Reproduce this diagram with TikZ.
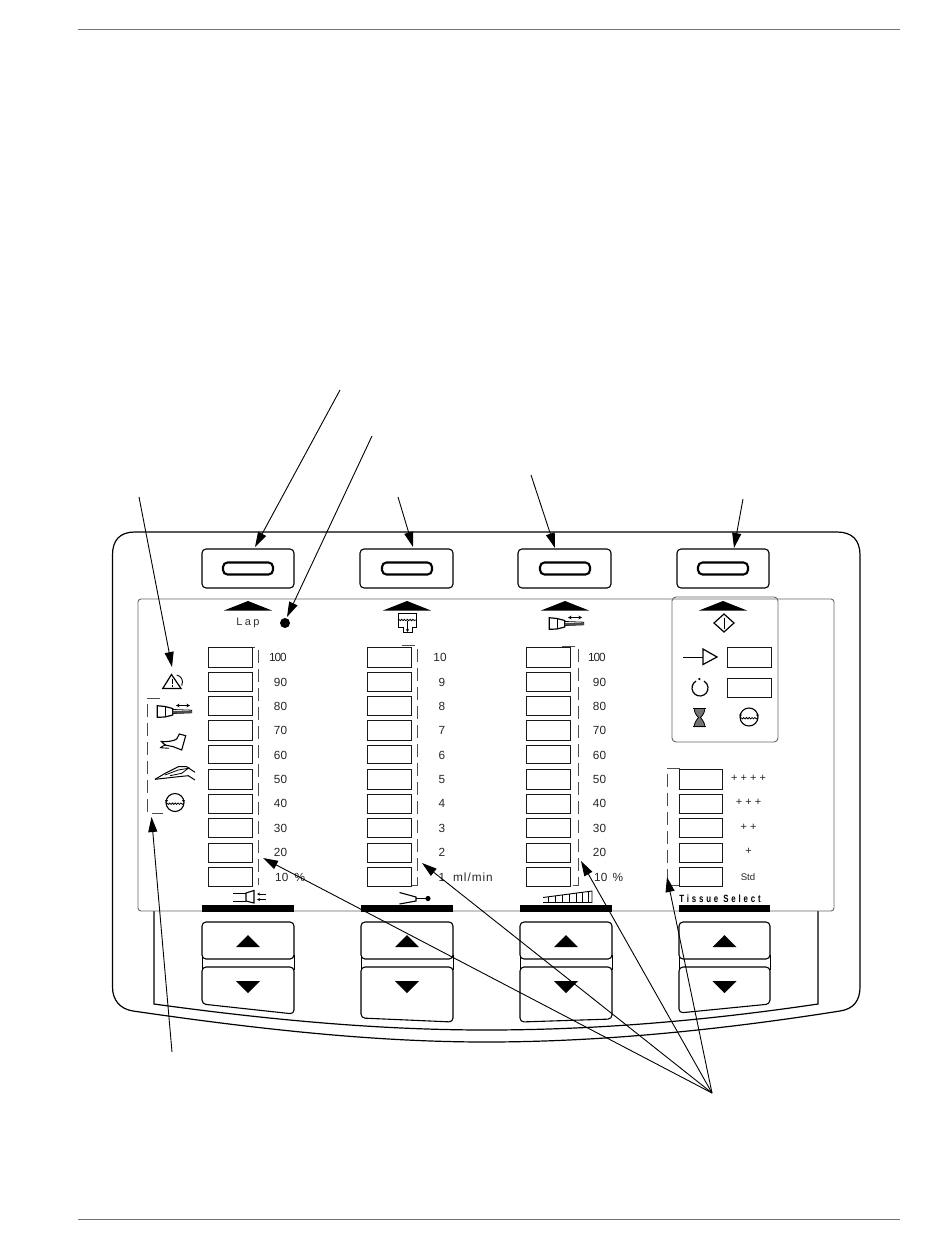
\documentclass[tikz,border=0pt]{standalone}
\usepackage{fontspec}
\setmainfont{Liberation Sans}
\newfontfamily\tightfont[LetterSpace=-9]{Liberation Sans}
\newfontfamily\wideplain[LetterSpace=22]{Liberation Sans}
\newfontfamily\midplain[LetterSpace=8]{Liberation Sans}
\usetikzlibrary{arrows.meta,decorations.pathmorphing}
\tikzset{
  grayline/.style={draw=black!60,line width=.9pt},
  ledbox/.style={draw=black!90,line width=.9pt,fill=white},
  keybox/.style={draw=black,line width=1.1pt,fill=white,rounded corners=4pt},
  rule/.style={draw=black!55,line width=.9pt},
  bracket/.style={draw=black!70,line width=.9pt,dash pattern=on 13pt off 6pt},
  leader/.style={draw=black,line width=.9pt,-{Triangle[length=15pt,width=9pt]},shorten >=0pt},
  numlabel/.style={font=\fontsize{11.8}{13}\selectfont,text=black!85,inner sep=0pt},
  wave/.style={decorate,decoration={snake,amplitude=.7pt,segment length=2.8pt},line width=.8pt},
  sym/.style={draw=black,line width=.9pt}
}
\newcommand{\levelsym}[3]{%
  \draw[sym,line width=1.1pt] (#1,#2) circle (#3);
  \draw[wave] (#1-#3,#2+1.2) -- (#1+#3,#2+1.2);
  \fill[black] (#1-#3-1,#2-2.5) -- (#1-#3+2,#2-2.5) -- (#1-#3+.5,#2) -- cycle;
  \fill[black] (#1+#3+1,#2-2.5) -- (#1+#3-2,#2-2.5) -- (#1+#3-.5,#2) -- cycle;
}
\newcommand{\handpiece}[2]{%
  \begin{scope}[shift={(#1,#2)}]
    \draw[sym,line width=1.2pt] (157.3,705.7) -- (165,706.5) -- (172.7,708.5) -- (172.7,715) -- (165,717) -- (157.3,717.3) -- cycle;
    \draw[sym,line width=.8pt] (165,706.5) -- (165,717);
    \draw[sym,line width=.8pt] (172.7,709.5) -- (191.7,710.2) -- (191.7,712.8) -- (172.7,713.5);
    \fill[black!70] (172.7,711) -- (191.7,711) -- (191.7,712.8) -- (172.7,713.5) -- cycle;
    \draw[sym,line width=.7pt,{Stealth[length=3.5pt,width=3.5pt]}-{Stealth[length=3.5pt,width=3.5pt]}] (176,705.5) -- (190,705.5);
  \end{scope}}
\begin{document}
\begin{tikzpicture}[x=1pt,y=-1pt]
\useasboundingbox (0,0) rectangle (950,1260);
\fill[white] (0,0) rectangle (950,1260);
% page rules
\draw[rule] (78,29) -- (900,29);
\draw[rule] (78,1219) -- (900,1219);
% housing
\draw[draw=black,line width=1.2pt] (133,1011) .. controls (120,1009) and (112.5,1000) .. (112.5,987)
  -- (112.5,555) .. controls (112.5,540) and (120,532) .. (135,532)
  -- (837,532) .. controls (852,532) and (860,540) .. (860,555)
  -- (860,987) .. controls (860,1000) and (854,1009) .. (840,1011)
  .. controls (720,1030) and (600,1042) .. (486,1042)
  .. controls (370,1042) and (250,1028) .. (133,1011) -- cycle;
\draw[draw=black,line width=1.2pt] (154,911) -- (154,1004)
  .. controls (270,1020) and (380,1030) .. (486,1030)
  .. controls (600,1030) and (710,1020) .. (818,1004) -- (818,911);
% display panel
\draw[grayline] (138,911) [rounded corners=3pt] -- (138,599) -- (834,599) -- (834,911) -- cycle;
\draw[grayline,rounded corners=4pt] (672,597) rectangle (778,742);
% columns: keys
\foreach \xa/\xb/\cx/\ll/\lr in {202/294/248/1004/1014, 361/453/407/1018/1022, 520/612/566/1022/1019, 679/770/724.5/1013/1004}{
  \draw[draw=black,line width=.9pt] (\xa,955) -- (\xa,970) (\xb,955) -- (\xb,970);
  \draw[keybox] (\xa,922) rectangle (\xb,959);
  \draw[keybox] (\xa,967) -- (\xb,967) -- (\xb,\lr) -- (\xa,\ll) -- cycle;
  \fill[black] (\cx-12,947) -- (\cx,935) -- (\cx+12,947) -- cycle;
  \fill[black] (\cx-12,981) -- (\cx+12,981) -- (\cx,993) -- cycle;
  \fill[black] (\xa,905) rectangle (\xb,912);
}
\foreach \xa/\xb/\cx in {202/294/248, 360/453/407, 518/611/565, 677/769/723}{
  \draw[keybox] (\xa,549) rectangle (\xb,588);
  \draw[draw=black,line width=2.1pt,rounded corners=4.5pt] (\cx-25,562.5) rectangle (\cx+25,574.5);
  \fill[black] (\cx-24,610.5) -- (\cx,601) -- (\cx+24,610.5) -- cycle;
}
% brackets (behind the LED boxes)
\draw[bracket] (242,647) -- (258,647) -- (258,885);
\draw[bracket] (402,645) -- (417,645) -- (417,885) -- (403,885);
\draw[bracket] (562,646) -- (578,646) -- (578,885) -- (565,885);
\draw[bracket] (680,768) -- (667,768) -- (667,885) -- (683,885);
\draw[bracket] (160,698) -- (147,698) -- (147,813) -- (163,813);
% LED boxes
\foreach \xa/\xb in {208/252, 367/411, 526/570}{
  \foreach \ya/\yb in {647/667,672/691,696/715,720/740,745/763,769/789,794/813,818/837,843/862,867/886}{
    \draw[ledbox] (\xa,\ya) rectangle (\xb,\yb);
  }
}
\foreach \ya/\yb in {769/789,794/813,818/837,843/862,867/886}{
  \draw[ledbox] (679,\ya) rectangle (722,\yb);
}
\draw[ledbox] (727,647) rectangle (771,667);
\draw[ledbox] (727,678) rectangle (771,697);
% numeric labels
\node[numlabel] (a100) at (278,657) {\tightfont 100};
\node[numlabel] (b100) at (597,657) {\tightfont 100};
\foreach \t/\y in {90/682,80/706,70/730,60/755,50/779,40/803,30/828,20/852}{
  \node[numlabel] (a\t) at (280.5,\y) {\t};
  \node[numlabel] (c\t) at (599.5,\y) {\t};
}
\node[numlabel,anchor=west] (a10) at (275,877) {10};
\node[numlabel,anchor=west] (apc) at (294.5,877) {\%};
\node[numlabel,anchor=west] (c10) at (594,877) {10};
\node[numlabel,anchor=west] (cpc) at (612.5,877) {\%};
\node[numlabel] (b10) at (440,657) {10};
\foreach \t/\y in {9/682,8/706,7/730,6/755,5/779,4/803,3/828,2/852,1/877}{
  \node[numlabel] (b\t) at (442,\y) {\t};
}
\node[numlabel,anchor=west] (bml) at (453,877) {\midplain ml/min};
\foreach \t/\y/\n in {{+ + + +}/778/t4,{+ + +}/802/t3,{+ +}/827/t2,{+}/851/t1}{
  \node[numlabel,font=\fontsize{11}{12}\selectfont] (\n) at (748.5,\y) {\t};
}
\node[numlabel,font=\fontsize{9.6}{10}\selectfont] (std) at (748,877) {Std};
\node[numlabel,font=\fontsize{11}{13}\selectfont,text=black!80] (lap) at (248,623) {\wideplain Lap};
\node[inner sep=0pt,font=\fontsize{10.5}{11}\selectfont\bfseries,text=black] (tissue) at (720,898.7) {\scalebox{.75}[1]{\addfontfeature{LetterSpace=36}Tissue Select}};
% dot
\fill[black] (285,623) circle (5);
% top symbols
\draw[sym] (398,613) -- (416,613) -- (416,627) -- (412,627) -- (412,632) -- (403,632) -- (403,627) -- (398,627) -- cycle;
\draw[wave] (398,620) -- (416,620);
\draw[sym,line width=.8pt,-{Stealth[length=3pt,width=3pt]}] (407.5,621) -- (407.5,632);
\handpiece{392}{-88}
% start diamond
\draw[sym,line width=1.2pt] (724,614) -- (734,623) -- (724,632) -- (714,623) -- cycle;
\draw[sym] (724,617.5) -- (724,628.5);
% run arrow
\draw[sym] (683,657) -- (703,657);
\draw[sym,line width=1.2pt] (703,649) -- (717,657) -- (703,664.5) -- cycle;
% circle with dot
\draw[sym,line width=1.2pt] (696,681.07) arc[start angle=240,end angle=-60,radius=8];
\fill[black] (699.3,679) circle (1.2);
% hourglass
\fill[black!55] (694,708) .. controls (695,716) and (698,716) .. (698.5,717.5) .. controls (698,719) and (695,720) .. (694,727) -- (705,727) .. controls (704,720) and (701,719) .. (700.5,717.5) .. controls (701,716) and (704,716) .. (705,708) -- cycle;
\draw[sym,line width=.8pt] (694,708) .. controls (695,716) and (698,716) .. (698.5,717.5) .. controls (698,719) and (695,720) .. (694,727);
\draw[sym,line width=.8pt] (705,708) .. controls (704,716) and (701,716) .. (700.5,717.5) .. controls (701,719) and (704,720) .. (705,727);
\draw[draw=black,line width=1.8pt] (693,708.5) -- (706,708.5) (693,726.5) -- (706,726.5);
\levelsym{749}{717}{9}
\levelsym{175}{802.5}{9}
% left symbols
\draw[sym,line width=1.2pt] (171.5,674.5) -- (162.7,688.5) -- (181,688.5) -- cycle;
\draw[draw=black,line width=1pt] (172,678.5) -- (172,684) (172,685) -- (172,686.5);
\draw[sym] (176.7,675) .. controls (181,676) and (184,680) .. (181.7,685.7);
\handpiece{0}{0}
\draw[sym,line width=1.1pt] (161.5,741.5) .. controls (167,742) and (174,741) .. (176.7,739)
  -- (179.3,734) -- (185.7,735.7) -- (181.7,750) -- (173.3,746.7) -- (165,745) -- cycle;
\draw[sym] (160,747.7) -- (169,748.3) (160,747.7) -- (166,744.5);
\draw[sym,line width=1pt] (155,779.3) -- (165.7,773) -- (178.3,766.7) -- (186.7,766.7) -- (195,772.3);
\draw[sym,line width=1pt] (155,779.3) -- (178.3,776.7) -- (188.3,775.7) -- (195,780);
\draw[sym,line width=.8pt] (165,775) -- (178.3,770) -- (188.3,768.3) -- (181.7,773.3) -- (170,775.7);
% bottom symbols
\draw[sym] (233,893) -- (246,893) (233,901) -- (246,901);
\draw[sym,line width=1.1pt] (246,893) -- (254,890.5) -- (254,903) -- (246,901) -- cycle;
\draw[sym,line width=.8pt,-{Stealth[length=3pt,width=3pt]}] (266,894) -- (257,894);
\draw[sym,line width=.8pt,-{Stealth[length=3pt,width=3pt]}] (266,899.5) -- (257,899.5);
\draw[sym,line width=1.1pt] (399.5,892.5) -- (416,897) -- (416,901) -- (399.5,904);
\draw[sym] (416,898.5) -- (426,898.5);
\fill[black] (428,898.5) circle (2.6);
\draw[sym] (543,902.5) -- (592,902.5) -- (592,891) -- (543,897.5);
\foreach \x/\y in {548/897,555/896,562/895,569/894,576/893,582/892,588/891.5}{ \draw[sym,line width=.8pt] (\x,903) -- (\x,\y); }
% leaders
\coordinate (tA) at (340,390); \coordinate (hA) at (255,547);
\coordinate (tB) at (372,436); \coordinate (hB) at (287,617);
\coordinate (tC) at (139,497); \coordinate (hC) at (172,667);
\coordinate (tD) at (398,497); \coordinate (hD) at (413,547);
\coordinate (tE) at (531,475); \coordinate (hE) at (555,548);
\coordinate (tF) at (743,499); \coordinate (hF) at (734,548);
\coordinate (tG) at (172,1052); \coordinate (hG) at (151.5,817);
\coordinate (tH) at (712,1093);
\coordinate (h1) at (263,858); \coordinate (h2) at (422,863);
\coordinate (h3) at (581,861); \coordinate (h4) at (667,877);
\foreach \a/\b in {tA/hA,tB/hB,tC/hC,tD/hD,tE/hE,tF/hF,tG/hG,tH/h1,tH/h2,tH/h3,tH/h4}{
  \draw[leader] (\a) -- (\b);
}
\end{tikzpicture}
\end{document}
